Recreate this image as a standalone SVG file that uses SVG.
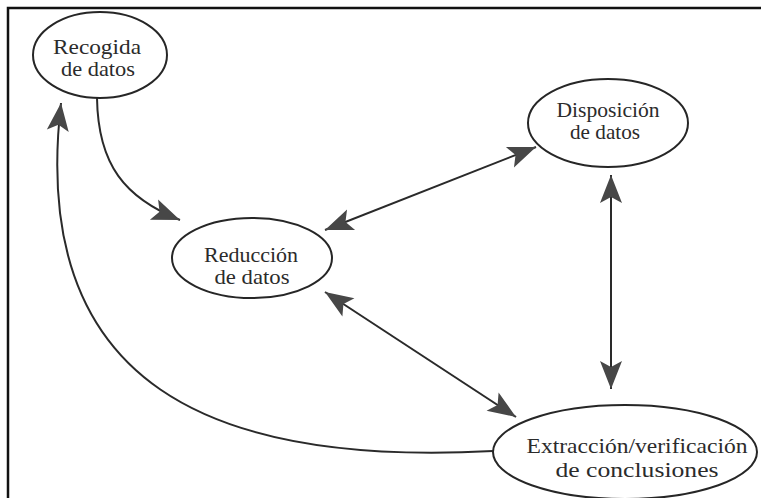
<svg xmlns="http://www.w3.org/2000/svg" width="761" height="498" viewBox="0 0 761 498">
<defs>
<style>
.node ellipse{fill:none;stroke:#262626;stroke-width:2}
.node text{font-family:"Liberation Serif","Times New Roman","DejaVu Serif",serif;font-size:21px;fill:#2b2b2b;text-anchor:middle}
.conn path{fill:none;stroke:#2a2a2a;stroke-width:2}
.frame{stroke:#111;stroke-width:2.5;fill:none}
</style>
<marker id="ah" markerUnits="userSpaceOnUse" viewBox="-30 -14 32 28" refX="0" refY="0" markerWidth="32" markerHeight="28" orient="auto-start-reverse">
<path d="M0,0 L-28,-11 L-22,0 L-28,11 Z" fill="#474747"/>
</marker>
</defs>
<rect width="761" height="498" fill="#ffffff"/>
<path class="frame" d="M8,498 L8,8 L761,8"/>
<g class="conn">
<path d="M97,98 C98,165 125,198 180,220" marker-end="url(#ah)"/>
<path d="M325,230 L536,147" marker-start="url(#ah)" marker-end="url(#ah)"/>
<path d="M325,292 L516,417" marker-start="url(#ah)" marker-end="url(#ah)"/>
<path d="M611,175 L611,389" marker-start="url(#ah)" marker-end="url(#ah)"/>
<path d="M493,451 C215,466 28,388 61,103" marker-end="url(#ah)"/>
</g>
<g id="recogida" class="node">
<ellipse cx="100" cy="55" rx="67" ry="43"/>
<text><tspan x="97" y="54" textLength="88" lengthAdjust="spacingAndGlyphs">Recogida</tspan><tspan x="98" y="76" textLength="74" lengthAdjust="spacingAndGlyphs">de datos</tspan></text>
</g>
<g id="reduccion" class="node">
<ellipse cx="252" cy="258" rx="80" ry="40"/>
<text><tspan x="251" y="262" textLength="94" lengthAdjust="spacingAndGlyphs">Reducción</tspan><tspan x="252" y="284" textLength="75" lengthAdjust="spacingAndGlyphs">de datos</tspan></text>
</g>
<g id="disposicion" class="node">
<ellipse cx="608" cy="123" rx="80" ry="44"/>
<text><tspan x="608" y="117" textLength="103" lengthAdjust="spacingAndGlyphs">Disposición</tspan><tspan x="605" y="139" textLength="70" lengthAdjust="spacingAndGlyphs">de datos</tspan></text>
</g>
<g id="extraccion" class="node">
<ellipse cx="625" cy="452" rx="132" ry="47"/>
<text><tspan x="637" y="453" textLength="221" lengthAdjust="spacingAndGlyphs">Extracción/verificación</tspan><tspan x="637" y="477" textLength="163" lengthAdjust="spacingAndGlyphs">de conclusiones</tspan></text>
</g>
</svg>
